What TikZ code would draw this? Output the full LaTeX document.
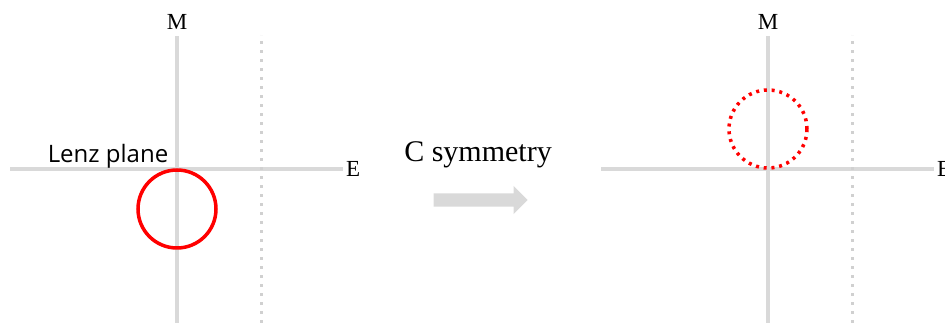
\documentclass[tikz,border=0pt]{standalone}
\usepackage{fontspec}
\setmainfont{Liberation Serif}
\newfontfamily\lenzfont{Open Sans}
\usepackage{xcolor}
\usepackage{tikz}
\usetikzlibrary{shapes.arrows, positioning}
\definecolor{axisgray}{HTML}{D9D9D9}
\definecolor{guidegray}{HTML}{D0D0D0}
\tikzstyle{axis} = [line width=3.5pt, color=axisgray]
\tikzstyle{guide} = [line width=3pt, color=guidegray, dash pattern=on 3pt off 6pt]
\tikzstyle{orbit} = [line width=3.5pt, color=red]
\tikzstyle{reddots} = [dash pattern=on 3pt off 4.8pt]
\tikzstyle{lbl} = [inner sep=0pt, font=\fontsize{23}{23}\selectfont]

\begin{document}
\begin{tikzpicture}[x=1pt, y=1pt]
  \useasboundingbox (0,0) rectangle (945,323);

  % two panels: before and after
  \foreach \dx/\cy/\pat in {0/114/solid, 591/194/reddots} {
    \begin{scope}[xshift=\dx]
      \coordinate (mlo) at (177,0);
      \coordinate (mhi) at (177,287);
      \coordinate (elo) at (10,154);
      \coordinate (ehi) at (343,154);
      \draw[axis] (mlo) -- (mhi);
      \draw[axis] (elo) -- (ehi);
      \draw[guide] (261,0) -- (261,288);
      \node (mlab) [lbl] at (177,301) {M};
      \node (elab) [lbl, right=3pt of ehi] {E};
      \draw[orbit, \pat] (177,\cy) circle (39);
    \end{scope}
  }

  \node (lenz) [inner sep=0pt, font=\lenzfont\fontsize{24}{24}\selectfont] at (108,167) {Lenz plane};

  \node (csym) [inner sep=0pt, font=\fontsize{30}{30}\selectfont] at (478,168) {C symmetry};
  \node (carrow) [single arrow, fill=axisgray, draw=none, inner xsep=0pt, inner ysep=6.5pt,
        minimum height=94pt, minimum width=28pt, single arrow head extend=7.5pt,
        single arrow tip angle=90, anchor=tip] at (528,123) {};

\end{tikzpicture}
\end{document}
